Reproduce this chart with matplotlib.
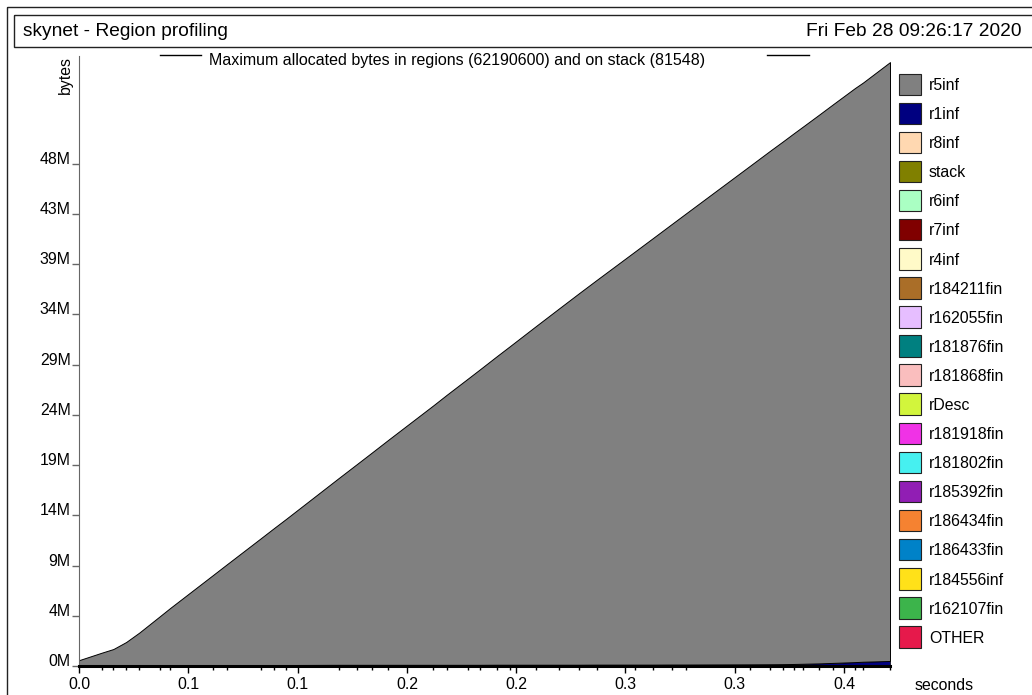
import matplotlib
matplotlib.use('Agg')
import matplotlib.pyplot as plt
from matplotlib.patches import Rectangle

plt.rcParams['font.family'] = ['Liberation Sans', 'DejaVu Sans']

#--datos--#
titulo = 'skynet - Region profiling'
fecha = 'Fri Feb 28 09:26:17 2020'
subtitulo = 'Maximum allocated bytes in regions (62190600) and on stack (81548)'

# tiempos de muestreo (segundos)
tiempos = [0.0, 0.0114, 0.0173, 0.0237, 0.0303, 0.0408, 0.0458, 0.0676, 0.0743,
           0.0916, 0.0981, 0.1042, 0.1308, 0.1397, 0.1473, 0.1556, 0.1783, 0.1850,
           0.1959, 0.2018, 0.2102, 0.2169, 0.2298, 0.2416, 0.2516, 0.2605, 0.2798,
           0.2889, 0.2983, 0.3053, 0.3377, 0.3477, 0.3543, 0.3598, 0.3642, 0.3724,
           0.3794, 0.3905, 0.3945, 0.4081]

# bytes de r5inf
r5inf = [0.55e6, 1.30e6, 1.68e6, 2.39e6, 3.36e6, 5.06e6, 5.87e6, 9.31e6, 10.37e6,
         13.09e6, 14.12e6, 15.07e6, 19.28e6, 20.68e6, 21.88e6, 23.20e6, 26.76e6, 27.84e6,
         29.55e6, 30.48e6, 31.81e6, 32.86e6, 34.90e6, 36.75e6, 38.31e6, 39.67e6, 42.61e6,
         44.00e6, 45.43e6, 46.50e6, 51.42e6, 52.94e6, 53.92e6, 54.74e6, 55.38e6, 56.58e6,
         57.60e6, 59.20e6, 59.72e6, 61.75e6]
# bytes de r1inf
r1inf = [0.02e6, 0.02e6, 0.02e6, 0.02e6, 0.02e6, 0.03e6, 0.03e6, 0.03e6, 0.03e6,
         0.03e6, 0.03e6, 0.03e6, 0.04e6, 0.04e6, 0.04e6, 0.04e6, 0.04e6, 0.04e6,
         0.04e6, 0.04e6, 0.05e6, 0.05e6, 0.05e6, 0.05e6, 0.05e6, 0.06e6, 0.06e6,
         0.06e6, 0.07e6, 0.07e6, 0.09e6, 0.10e6, 0.11e6, 0.13e6, 0.15e6, 0.19e6,
         0.24e6, 0.32e6, 0.36e6, 0.44e6]
# bytes de stack
stack = [0.03e6, 0.05e6, 0.05e6, 0.06e6, 0.06e6, 0.06e6, 0.07e6, 0.07e6, 0.07e6,
         0.07e6, 0.07e6, 0.07e6, 0.08e6, 0.08e6, 0.08e6, 0.08e6, 0.08e6, 0.08e6,
         0.08e6, 0.08e6, 0.08e6, 0.08e6, 0.08e6, 0.08e6, 0.08e6, 0.08e6, 0.08e6,
         0.08e6, 0.08e6, 0.08e6, 0.08e6, 0.08e6, 0.08e6, 0.08e6, 0.08e6, 0.08e6,
         0.08e6, 0.08e6, 0.08e6, 0.08e6]

x_ticks = [0.0, 0.055, 0.11, 0.165, 0.22, 0.275, 0.33, 0.385]
x_labels = ['0.0', '0.1', '0.1', '0.2', '0.2', '0.3', '0.3', '0.4']
y_ticks = [0, 5.18e6, 10.36e6, 15.54e6, 20.72e6, 25.9e6, 31.08e6, 36.26e6, 41.44e6, 46.62e6, 51.8e6]
y_labels = ['0M', '4M', '9M', '14M', '19M', '24M', '29M', '34M', '39M', '43M', '48M']

nombres = ['r5inf', 'r1inf', 'r8inf', 'stack', 'r6inf', 'r7inf', 'r4inf', 'r184211fin',
           'r162055fin', 'r181876fin', 'r181868fin', 'rDesc', 'r181918fin', 'r181802fin',
           'r185392fin', 'r186434fin', 'r186433fin', 'r184556inf', 'r162107fin', 'OTHER']
colores = ['#808080', '#000080', '#ffd8b1', '#808000', '#aaffc3', '#800000', '#fffac8',
           '#aa6e28', '#e6beff', '#008080', '#fabebe', '#d2f53c', '#f032e6', '#46f0f0',
           '#911eb4', '#f58231', '#0082c8', '#ffe119', '#3cb44b', '#e6194b']

W, H = 1032, 695
fig = plt.figure(figsize=(W / 100, H / 100), dpi=100)

# capa de decoracion en pixeles
deco = fig.add_axes([0, 0, 1, 1])
deco.set_xlim(0, W)
deco.set_ylim(H, 0)
deco.axis('off')
deco.patch.set_visible(False)
deco.add_patch(Rectangle((7, 7), 1040, 700, fill=False, edgecolor='#222222', lw=1))
deco.add_patch(Rectangle((14, 15), 1030, 32, fill=False, edgecolor='#222222', lw=1))
deco.text(23, 31.5, titulo, fontsize=13.8, va='center', ha='left')
deco.text(1022, 31.5, fecha, fontsize=13.8, va='center', ha='right')
deco.text(457, 60, subtitulo, fontsize=11.5, va='center', ha='center')
deco.plot([160, 201], [55, 55], color='black', lw=1)
deco.plot([767, 809], [55, 55], color='black', lw=1)
deco.text(65, 75, 'bytes', fontsize=11.4, rotation=90, va='center', ha='center')
deco.text(944, 685, 'seconds', fontsize=11.4, va='center', ha='center')

# leyenda
for i, (nom, col) in enumerate(zip(nombres, colores)):
    y0 = 73.5 + i * 29.09
    deco.add_patch(Rectangle((898.5, y0), 22.5, 21.5, facecolor=col, edgecolor='#222222', lw=0.8))
    deco.text(929, y0 + 12, nom, fontsize=11.4, va='center', ha='left')

# grafico
ax = fig.add_axes([79 / W, (H - 666) / H, 811 / W, 610 / H])
ax.patch.set_visible(False)
base = [0] * len(tiempos)
capa1 = [s for s in stack]
capa2 = [s + r for s, r in zip(capa1, r1inf)]
capa3 = [s + r for s, r in zip(capa2, r5inf)]
ax.fill_between(tiempos, base, capa1, facecolor=colores[3], edgecolor='black', lw=0.5)
ax.fill_between(tiempos, capa1, capa2, facecolor=colores[1], edgecolor='black', lw=0.5)
ax.fill_between(tiempos, capa2, capa3, facecolor=colores[0], edgecolor='black', lw=0.7)

ax.set_xlim(0, 0.4081)
ax.set_ylim(0, 62.9e6)
ax.spines['top'].set_visible(False)
ax.spines['right'].set_visible(False)
ax.spines['left'].set_color('#666666')
ax.spines['bottom'].set_linewidth(2.2)
ax.set_xticks(x_ticks)
ax.set_xticklabels(x_labels, fontsize=11.4)
ax.set_xticks(tiempos, minor=True)
ax.tick_params(axis='x', which='major', length=5, width=1, pad=3)
ax.tick_params(axis='x', which='minor', length=3, width=1)
ax.set_yticks(y_ticks)
ax.set_yticklabels(y_labels, fontsize=11.4)
ax.tick_params(axis='y', length=5, width=1, color='#666666', pad=1)
for lbl in ax.get_yticklabels():
    lbl.set_va('baseline')

fig.savefig('out.png', dpi=100)
